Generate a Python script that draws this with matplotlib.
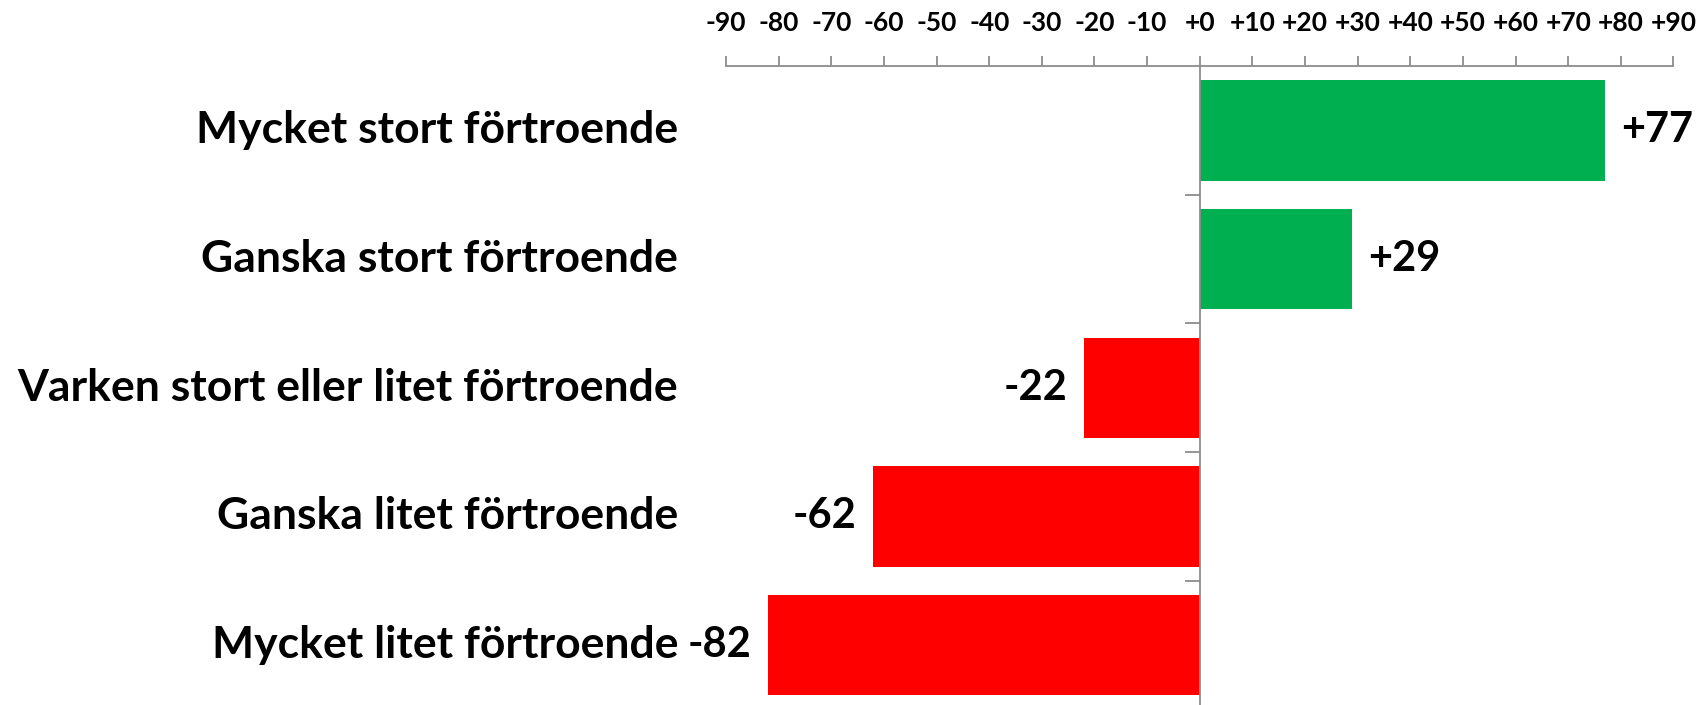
import numpy as np
import matplotlib
matplotlib.use('Agg')
import matplotlib.pyplot as plt
from matplotlib.ticker import FixedLocator, FuncFormatter

# Data
categories = [
    'Mycket stort förtroende',
    'Ganska stort förtroende',
    'Varken stort eller litet förtroende',
    'Ganska litet förtroende',
    'Mycket litet förtroende',
]
values = [77, 29, -22, -62, -82]
x_ticks = list(range(-90, 91, 10))

# Style
GREEN = '#00B050'
RED = '#FF0000'
AXIS_GRAY = '#8C8C8C'
FONT = 'Lato'

W, H = 1699, 705
fig = plt.figure(figsize=(W / 100, H / 100), dpi=100)
ax = fig.add_axes([726 / W, -4.5 / H, 947.5 / W, 643.5 / H])

y = np.arange(len(categories))
colors = [GREEN if v > 0 else RED for v in values]
ax.barh(y, values, height=0.78, color=colors, zorder=2)

ax.set_xlim(-90, 90)
ax.set_ylim(len(categories) - 0.5, -0.5)

# x axis on top
ax.xaxis.set_ticks_position('top')
ax.xaxis.set_major_locator(FixedLocator(x_ticks))
ax.xaxis.set_major_formatter(FuncFormatter(lambda v, p: f'{int(round(v)):+d}'))
ax.tick_params(axis='x', which='major', direction='out', length=7.2, width=1.3,
               color=AXIS_GRAY, pad=15, labelsize=19)
for lbl in ax.get_xticklabels():
    lbl.set_fontfamily(FONT)
    lbl.set_fontweight('bold')

# y axis sits at zero, ticks between the categories
ax.spines['left'].set_position(('data', 0))
ax.yaxis.set_major_locator(FixedLocator(y[:-1] + 0.5))
ax.tick_params(axis='y', direction='out', length=10.8, width=1.3,
               color=AXIS_GRAY, labelleft=False)

for side in ['right', 'bottom']:
    ax.spines[side].set_visible(False)
for side in ['top', 'left']:
    ax.spines[side].set_color(AXIS_GRAY)
    ax.spines[side].set_linewidth(1.3)
    ax.spines[side].set_zorder(3)

# category labels, right aligned left of the plot area
for i, cat in enumerate(categories):
    ax.annotate(cat, xy=(0, i), xycoords=ax.get_yaxis_transform(),
                xytext=(-34.5, 0), textcoords='offset points',
                ha='right', va='center', fontsize=32, fontweight='bold',
                fontfamily=FONT)

# value labels
for i, v in enumerate(values):
    off = 11.5 if v > 0 else -12.2
    ax.annotate(f'{v:+d}', xy=(v, i), xytext=(off, 0), textcoords='offset points',
                ha='left' if v > 0 else 'right', va='center',
                fontsize=30, fontweight='bold', fontfamily=FONT)

plt.savefig('out.png', dpi=100)
